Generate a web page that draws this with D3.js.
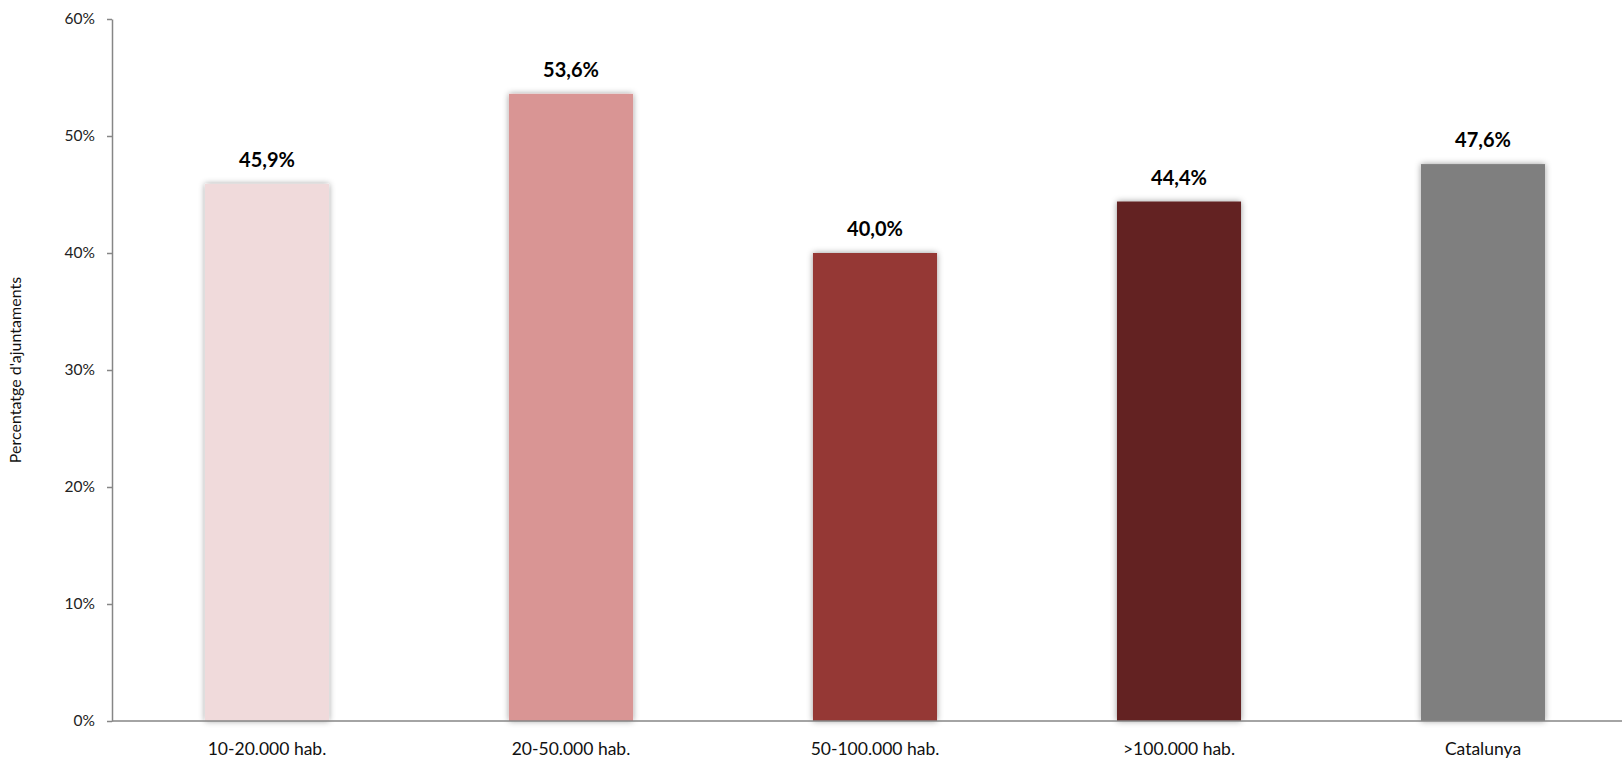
<!DOCTYPE html>
<html><head><meta charset="utf-8">
<script src="https://cdn.jsdelivr.net/npm/d3@7"></script>
<style>body{margin:0;background:#fff}svg{display:block}</style>
</head><body>
<script>
const categories = ["10-20.000 hab.", "20-50.000 hab.", "50-100.000 hab.", ">100.000 hab.", "Catalunya"];
const values = [45.9, 53.6, 40.0, 44.4, 47.6];
const colors = ["#F0DADB", "#D99594", "#953735", "#632423", "#7F7F7F"];
const yTicks = [0, 10, 20, 30, 40, 50, 60];
const yTitle = "Percentatge d'ajuntaments";

const W = 1622, H = 759;
const font = "Lato, 'Open Sans', sans-serif";
const svg = d3.select("body").append("svg").attr("width", W).attr("height", H);

const defs = svg.append("defs");
const f = defs.append("filter").attr("id", "sh").attr("x", "-20%").attr("y", "-20%").attr("width", "140%").attr("height", "140%");
f.append("feDropShadow").attr("dx", 0).attr("dy", 0).attr("stdDeviation", 3).attr("flood-color", "#000").attr("flood-opacity", 0.4);

const x0 = 112;
const x = d3.scalePoint().domain(categories).range([115, 1635]).padding(0.5);
const bw = x.step() * 0.408;
const y = d3.scaleLinear().domain([0, 60]).range([721, 19]);

// bars
svg.append("g").selectAll("rect").data(values).join("rect")
  .attr("x", (d, i) => x(categories[i]) - bw / 2)
  .attr("y", d => y(d))
  .attr("width", bw)
  .attr("height", d => y(0) - y(d))
  .attr("fill", (d, i) => colors[i])
  .attr("filter", "url(#sh)");

// y axis
const ya = svg.append("g").attr("transform", `translate(${x0},0)`)
  .call(d3.axisLeft(y).tickValues(yTicks).tickFormat(d => d + "%").tickSize(5).tickSizeOuter(0));
ya.select(".domain").attr("stroke", "#868686").attr("stroke-width", 1.5);
ya.selectAll(".tick line").attr("stroke", "#868686").attr("stroke-width", 1.5);
ya.selectAll(".tick text").attr("font-family", font).attr("font-size", 15.5).attr("fill", "#222").attr("x", -17);

// x axis line
svg.append("line").attr("x1", x0).attr("x2", W).attr("y1", y(0)).attr("y2", y(0))
  .attr("stroke", "#868686").attr("stroke-width", 1.5);

// category labels
svg.append("g").selectAll("text").data(categories).join("text")
  .attr("x", d => x(d)).attr("y", 755)
  .attr("text-anchor", "middle").attr("font-family", font).attr("font-size", 17.5).attr("fill", "#111")
  .text(d => d);

// value labels
svg.append("g").selectAll("text").data(values).join("text")
  .attr("x", (d, i) => x(categories[i])).attr("y", d => y(d) - 17)
  .attr("text-anchor", "middle").attr("font-family", font).attr("font-weight", "bold").attr("font-size", 20).attr("fill", "#000")
  .text(d => d.toFixed(1).replace(".", ",") + "%");

// y title
svg.append("text").attr("transform", `translate(21,${y(30)}) rotate(-90)`)
  .attr("text-anchor", "middle").attr("font-family", font).attr("font-size", 16).attr("fill", "#111")
  .text(yTitle);
</script>
</body></html>
